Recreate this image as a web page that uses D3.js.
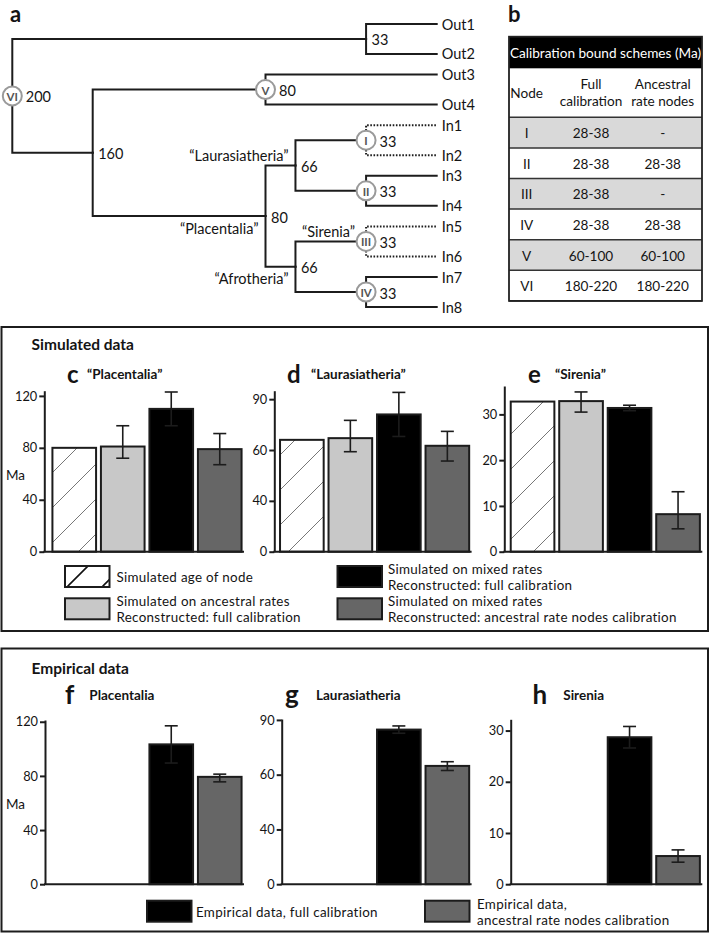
<!DOCTYPE html>
<html><head><meta charset="utf-8">
<script src="https://cdn.jsdelivr.net/npm/d3@7"></script>
<style>
body{margin:0;background:#fff;}
svg text{font-family:Lato,"Open Sans",sans-serif;fill:#141414;}
</style></head>
<body><svg id="fig" width="710" height="934"></svg>
<script>
// ================= DATA =================
// Panel a: tree
const treeIds     = ["root","o12","Out1","Out2","n160","V","Out3","Out4","plac","laur","I","In1","In2","II","In3","In4","afro","III","In5","In6","IV","In7","In8"];
const treeParents = ["","root","o12","o12","root","n160","V","V","n160","plac","laur","I","I","laur","II","II","plac","afro","III","III","afro","IV","IV"];
const treeAges    = [200,33,0,0,160,80,0,0,80,66,33,0,0,33,0,0,66,33,0,0,33,0,0];
const romanIds    = ["root","V","I","II","III","IV"];
const romanLabels = ["VI","V","I","II","III","IV"];
const dottedNodes = ["I","III"];
const cladeIds    = ["plac","laur","afro","III"];
const cladeNames  = ["\u201cPlacentalia\u201d","\u201cLaurasiatheria\u201d","\u201cAfrotheria\u201d","\u201cSirenia\u201d"];
const cladeSide   = ["below","above","below","above"];

// Panel b: table
const tableTitle   = "Calibration bound schemes (Ma)";
const tableNodes   = ["I","II","III","IV","V","VI"];
const tableFull    = ["28-38","28-38","28-38","28-38","60-100","180-220"];
const tableAnc     = ["-","28-38","-","28-38","60-100","180-220"];

// Simulated data (c, d, e)
const simSeries = ["Simulated age of node",
  "Simulated on ancestral rates|Reconstructed: full calibration",
  "Simulated on mixed rates|Reconstructed: full calibration",
  "Simulated on mixed rates|Reconstructed: ancestral rate nodes calibration"];
const simLetters = ["c","d","e"];
const simTitles  = ["\u201cPlacentalia\u201d","\u201cLaurasiatheria\u201d","\u201cSirenia\u201d"];
const simPlacentalia      = [80, 81, 110, 79];
const simPlacentaliaLow   = [null, 72, 97, 67];
const simPlacentaliaHigh  = [null, 97, 123, 91];
const simLaurasiatheria     = [66, 67, 81, 62.5];
const simLaurasiatheriaLow  = [null, 59, 68, 53.5];
const simLaurasiatheriaHigh = [null, 77.5, 94, 71];
const simSirenia     = [32.8, 32.9, 31.4, 8.2];
const simSireniaLow  = [null, 30.5, 30.8, 5.0];
const simSireniaHigh = [null, 34.9, 32.0, 13.1];

// Empirical data (f, g, h)
const empSeries  = ["Empirical data, full calibration", "Empirical data,|ancestral rate nodes calibration"];
const empLetters = ["f","g","h"];
const empTitles  = ["Placentalia","Laurasiatheria","Sirenia"];
const empPlacentalia      = [103.3, 79.3];
const empPlacentaliaLow   = [89.5, 75.6];
const empPlacentaliaHigh  = [117, 81.3];
const empLaurasiatheria     = [84.7, 64.8];
const empLaurasiatheriaLow  = [82.7, 62.3];
const empLaurasiatheriaHigh = [86.7, 67.1];
const empSirenia     = [28.7, 5.5];
const empSireniaLow  = [26.6, 4.3];
const empSireniaHigh = [30.8, 6.7];

// Axis ticks
const ticksPlac = [0,40,80,120];  const tickLabelsPlac = ["0","40","80","120"];
const ticksLaur = [0,30,60,90];   const tickLabelsLaur = ["0","40","60","90"];
const ticksSir  = [0,10,20,30];   const tickLabelsSir  = ["0","10","20","30"];
const yAxisLabel = "Ma";

// ================= DRAW =================
const svg = d3.select("#fig");
const INK = "#1c1c1c";
const fills = ["url(#hatch)", "#c8c8c8", "#000000", "#666666"];
const legendFills = ["url(#hatchLeg)", "#c8c8c8", "#000000", "#666666"];

const defs = svg.append("defs");
function makeHatch(id, color, sw, ox, oy){
  const p = defs.append("pattern").attr("id", id).attr("patternUnits","userSpaceOnUse")
    .attr("width",35).attr("height",35).attr("x",ox).attr("y",oy);
  p.append("rect").attr("width",35).attr("height",35).attr("fill","#fff");
  p.append("path").attr("d","M0,35 L35,0 M-5,5 L5,-5 M30,40 L40,30")
    .attr("stroke",color).attr("stroke-width",sw);
}
makeHatch("hatch", "#777", 1, 0, 0);
makeHatch("hatchLeg", "#111", 1.6, 68, 551);

// ---------- Panel a: tree ----------
const rows = treeIds.map((id,i)=>({id, parent: treeParents[i] || null, age: treeAges[i]}));
const root = d3.stratify().id(d=>d.id).parentId(d=>d.parent)(rows);
d3.cluster().nodeSize([1,1]).separation((a,b)=> a.parent===b.parent ? 1 : 0.69)(root);
const leaves = root.leaves();
const yTree = d3.scaleLinear().domain(d3.extent(leaves, d=>d.x)).range([24, 307]);
const xAge  = d3.scaleLinear().domain([200,160,80,0]).range([12.3,92.7,265.5,436.7]);

svg.append("text").attr("x",10).attr("y",22).attr("font-size",22).attr("font-weight",700).text("a");

const gT = svg.append("g");
root.descendants().filter(n=>n.parent).forEach(n=>{
  const px = xAge(n.parent.data.age), py = yTree(n.parent.x);
  const cx = xAge(n.data.age), cy = yTree(n.x);
  const dotted = dottedNodes.includes(n.parent.id);
  gT.append("path").attr("d",`M${px},${py} V${cy} H${cx}`)
    .attr("fill","none").attr("stroke",INK).attr("stroke-width",2)
    .attr("stroke-dasharray", dotted ? "1.6,1.6" : null)
    .attr("stroke-linecap", dotted ? "butt" : "square");
});
// leaf labels
leaves.forEach(n=>{
  gT.append("text").attr("x", xAge(0)+5).attr("y", yTree(n.x)).attr("dominant-baseline","central")
    .attr("font-size",14.5).text(n.id);
});
// node circles & ages
root.descendants().filter(n=>n.children).forEach(n=>{
  const x = xAge(n.data.age), y = yTree(n.x);
  const ri = romanIds.indexOf(n.id);
  if (ri >= 0){
    gT.append("circle").attr("cx",x).attr("cy",y).attr("r",9.5)
      .attr("fill","#fff").attr("stroke","#9a9a9a").attr("stroke-width",2);
    gT.append("text").attr("x",x).attr("y",y+0.5).attr("text-anchor","middle").attr("dominant-baseline","central")
      .attr("font-size",11.5).attr("font-weight",700).style("fill","#555").text(romanLabels[ri]);
  }
  gT.append("text").attr("x", x + (ri>=0 ? 13.5 : 5.5)).attr("y", y+1).attr("dominant-baseline","central")
    .attr("font-size",14.5).text(String(n.data.age));
  const ci = cladeIds.indexOf(n.id);
  if (ci >= 0){
    const off = ri>=0 ? 11 : 7;
    gT.append("text").attr("x", x - off).attr("y", cladeSide[ci]==="above" ? y - 10 : y + 12)
      .attr("text-anchor","end").attr("dominant-baseline","central")
      .attr("font-size",14.5).text(cladeNames[ci]);
  }
});

// ---------- Panel b: table ----------
svg.append("text").attr("x",508).attr("y",22).attr("font-size",22).attr("font-weight",700).text("b");
const tb = svg.append("g");
const tX0 = 509, tX1 = 702, tTop = 36.7, hdrH = 31.6, colH = 49, rowH = 30.6;
const colX = [526.7, 591, 662.7];
tb.append("rect").attr("x",tX0).attr("y",tTop).attr("width",tX1-tX0).attr("height",hdrH).attr("fill","#000");
tb.append("text").attr("x",(tX0+tX1)/2).attr("y",tTop+hdrH/2).attr("text-anchor","middle").attr("dominant-baseline","central")
  .attr("font-size",13.6).style("fill","#fff").text(tableTitle);
const colTop = tTop + hdrH;
tb.append("text").attr("x",colX[0]).attr("y",colTop+colH/2).attr("text-anchor","middle").attr("dominant-baseline","central").attr("font-size",13.6).text("Node");
[["Full","calibration"],["Ancestral","rate nodes"]].forEach((lines,k)=>{
  const t = tb.append("text").attr("text-anchor","middle").attr("font-size",13.6);
  lines.forEach((s,j)=>{
    t.append("tspan").attr("x",colX[k+1]).attr("y",colTop+colH/2 + (j? 8.6 : -8.6))
      .attr("dominant-baseline","central").text(s);
  });
});
const rowsTop = colTop + colH;
tableNodes.forEach((nd,i)=>{
  const y = rowsTop + i*rowH;
  tb.append("rect").attr("x",tX0).attr("y",y).attr("width",tX1-tX0).attr("height",rowH)
    .attr("fill", i%2===0 ? "#d9d9d9" : "#fff");
  [nd, tableFull[i], tableAnc[i]].forEach((t,k)=>{
    tb.append("text").attr("x",colX[k]).attr("y",y+rowH/2+0.5).attr("text-anchor","middle")
      .attr("dominant-baseline","central").attr("font-size",13.6).text(t);
  });
});
const tBottom = rowsTop + tableNodes.length*rowH;
for (let i=0;i<=tableNodes.length;i++){
  tb.append("line").attr("x1",tX0).attr("x2",tX1).attr("y1",rowsTop+i*rowH).attr("y2",rowsTop+i*rowH)
    .attr("stroke","#333").attr("stroke-width",1.5);
}
tb.append("rect").attr("x",tX0).attr("y",tTop).attr("width",tX1-tX0).attr("height",tBottom-tTop)
  .attr("fill","none").attr("stroke","#222").attr("stroke-width",1.8);

// ---------- boxes ----------
svg.append("rect").attr("x",1.5).attr("y",327).attr("width",706.5).attr("height",304)
  .attr("fill","none").attr("stroke",INK).attr("stroke-width",2);
svg.append("rect").attr("x",1.5).attr("y",648.5).attr("width",706.5).attr("height",283)
  .attr("fill","none").attr("stroke",INK).attr("stroke-width",2);
svg.append("text").attr("x",31.5).attr("y",343.5).attr("dominant-baseline","central").attr("font-size",15.5).attr("font-weight",700).text("Simulated data");
svg.append("text").attr("x",31.5).attr("y",667.5).attr("dominant-baseline","central").attr("font-size",15.5).attr("font-weight",700).text("Empirical data");

// ---------- bar panels ----------
function drawPanel(cfg){
  const g = svg.append("g");
  const y = d3.scaleLinear().domain([0, cfg.yMax]).range([cfg.y0, cfg.yTop]);
  const x = d3.scaleBand().domain(d3.range(4)).range([cfg.x0, cfg.x0 + 194]).paddingInner(0.1).paddingOuter(0.05);
  // letter + title
  g.append("text").attr("x",cfg.letterX).attr("y",cfg.titleY).attr("dominant-baseline","central")
    .attr("font-size",cfg.letterSize).attr("font-weight",700).text(cfg.letter);
  g.append("text").attr("x",cfg.titleX).attr("y",cfg.titleY+1).attr("dominant-baseline","central")
    .attr("font-size",13.5).attr("font-weight",700).text(cfg.title);
  // bars
  cfg.values.forEach((v,i)=>{
    const s = cfg.slots[i];
    g.append("rect").attr("x",x(s)).attr("y",y(v)).attr("width",x.bandwidth()).attr("height",y(0)-y(v))
      .attr("fill",cfg.fills[i]).attr("stroke",INK).attr("stroke-width",2);
  });
  // error bars
  cfg.values.forEach((v,i)=>{
    if (cfg.low[i]==null) return;
    const cx = x(cfg.slots[i]) + x.bandwidth()/2;
    const e = g.append("g").attr("stroke",INK).attr("stroke-width",1.6);
    e.append("line").attr("x1",cx).attr("x2",cx).attr("y1",y(cfg.low[i])).attr("y2",y(cfg.high[i]));
    e.append("line").attr("x1",cx-6.5).attr("x2",cx+6.5).attr("y1",y(cfg.low[i])).attr("y2",y(cfg.low[i]));
    e.append("line").attr("x1",cx-6.5).attr("x2",cx+6.5).attr("y1",y(cfg.high[i])).attr("y2",y(cfg.high[i]));
  });
  // axes
  const ax = d3.axisLeft(y).tickValues(cfg.ticks).tickFormat(d=>cfg.tickLabels[cfg.ticks.indexOf(d)])
    .tickSize(5).tickSizeOuter(0).tickPadding(2);
  const ag = g.append("g").attr("transform",`translate(${cfg.axisX},0)`).call(ax);
  ag.selectAll("path,line").attr("stroke",INK).attr("stroke-width",2);
  ag.selectAll("text").attr("font-size",12.8).attr("font-family","Lato, 'Open Sans', sans-serif").style("fill","#141414");
  g.append("line").attr("x1",cfg.axisX-1).attr("x2",x.range()[1]).attr("y1",y(0)).attr("y2",y(0))
    .attr("stroke",INK).attr("stroke-width",2);
  if (cfg.showMa){
    g.append("text").attr("x",6).attr("y",y(60)+1).attr("dominant-baseline","central").attr("font-size",13.5).text(yAxisLabel);
  }
}

const simValues = [simPlacentalia, simLaurasiatheria, simSirenia];
const simLows   = [simPlacentaliaLow, simLaurasiatheriaLow, simSireniaLow];
const simHighs  = [simPlacentaliaHigh, simLaurasiatheriaHigh, simSireniaHigh];
const empValues = [empPlacentalia, empLaurasiatheria, empSirenia];
const empLows   = [empPlacentaliaLow, empLaurasiatheriaLow, empSireniaLow];
const empHighs  = [empPlacentaliaHigh, empLaurasiatheriaHigh, empSireniaHigh];
const tickSets  = [[ticksPlac,tickLabelsPlac],[ticksLaur,tickLabelsLaur],[ticksSir,tickLabelsSir]];

const simLayout = [
  {axisX:44.3, x0:50,    yMax:124,  yTop:390.7, letterX:67,  titleX:87},
  {axisX:274.3,x0:277.6, yMax:95,   yTop:390.7, letterX:287, titleX:311},
  {axisX:504.3,x0:508.3, yMax:36.2, yTop:386,   letterX:528, titleX:555}
];
simLayout.forEach((L,k)=>{
  drawPanel({...L, y0:551.7, titleY:373, letter:simLetters[k], letterSize:24, title:simTitles[k],
    values:simValues[k], low:simLows[k], high:simHighs[k], slots:[0,1,2,3], fills:fills,
    ticks:tickSets[k][0], tickLabels:tickSets[k][1], showMa:k===0});
});

const empLayout = [
  {axisX:45,   x0:50,    yMax:121.3, yTop:720,   letterX:65,  titleX:89.3},
  {axisX:281.7,x0:277.6, yMax:90.5,  yTop:719,   letterX:285, titleX:316},
  {axisX:510.7,x0:508.3, yMax:32.2,  yTop:719.3, letterX:532.5,titleX:563.3}
];
empLayout.forEach((L,k)=>{
  drawPanel({...L, y0:884.2, titleY:694, letter:empLetters[k], letterSize:26, title:empTitles[k],
    values:empValues[k], low:empLows[k], high:empHighs[k], slots:[2,3], fills:[fills[2],fills[3]],
    ticks:tickSets[k][0], tickLabels:tickSets[k][1], showMa:k===0});
});

// ---------- legends ----------
function legendItem(sx, sy, fill, label, tx){
  const sw = 44.5, sh = 21;
  svg.append("rect").attr("x",sx).attr("y",sy).attr("width",sw).attr("height",sh)
    .attr("fill",fill).attr("stroke",INK).attr("stroke-width",2);
  const lines = label.split("|");
  const cy = sy + sh/2;
  const t = svg.append("text").attr("font-size",13.4).attr("letter-spacing",0.3);
  lines.forEach((s,j)=>{
    const dy = lines.length===1 ? 0 : (j===0 ? -8 : 8);
    t.append("tspan").attr("x",tx).attr("y",cy+dy+0.5).attr("dominant-baseline","central").text(s);
  });
}
// simulated legend: order row1 [0,2], row2 [1,3]
const simLegPos = [[65,566,116.5],[65,598.3,116.5],[337.5,566,388],[337.5,598.3,388]];
simSeries.forEach((s,i)=> legendItem(simLegPos[i][0], simLegPos[i][1], legendFills[i], s, simLegPos[i][2]));
const empLegPos = [[147,900.7,196],[425,900.7,477]];
empSeries.forEach((s,i)=> legendItem(empLegPos[i][0], empLegPos[i][1], [fills[2],fills[3]][i], s, empLegPos[i][2]));
</script>
</body></html>
